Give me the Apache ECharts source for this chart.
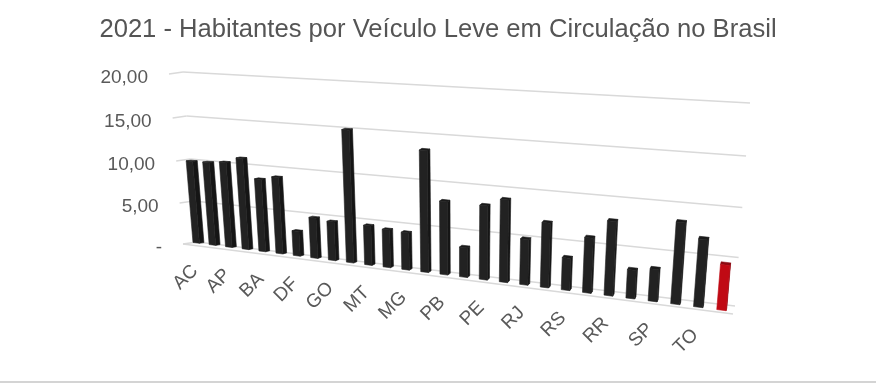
<!DOCTYPE html>
<html><head><meta charset="utf-8">
<style>html,body{margin:0;padding:0;background:#fff}#c{width:876px;height:383px}</style>
<script src="https://cdn.jsdelivr.net/npm/echarts@6/dist/echarts.min.js"></script>
</head><body><div id="c"></div>
<script>
const chartTitle = '2021 - Habitantes por Veículo Leve em Circulação no Brasil';
const categories = ['AC','AL','AP','AM','BA','CE','DF','ES','GO','MA','MT','MS','MG','PA','PB','PR','PE','PI','RJ','RN','RS','RO','RR','SC','SP','SE','TO','BRASIL'];
const values = [9.88,9.93,10.13,10.78,8.55,8.98,2.93,4.73,4.51,14.98,4.53,4.32,4.23,13.46,8.15,3.33,8.15,9.0,5.0,7.0,3.5,5.9,7.88,3.03,3.39,8.46,7.0,4.66];
const tickValues = [0,5,10,15,20];
const tickLabels = ['-','5,00','10,00','15,00','20,00'];

// perspective set-up: the flat axis grid is projected to the skewed 3D view
const G = {l:100,t:50,w:600,h:200};
function makeH(q){ // q: BL, BR, TR, TL ; (s,t) unit square -> quad
  const [p0,p1,p2,p3]=q;
  const dx1=p1[0]-p2[0],dx2=p3[0]-p2[0],sx=p0[0]-p1[0]+p2[0]-p3[0];
  const dy1=p1[1]-p2[1],dy2=p3[1]-p2[1],sy=p0[1]-p1[1]+p2[1]-p3[1];
  const det=dx1*dy2-dx2*dy1;
  const g=(sx*dy2-dx2*sy)/det,h=(dx1*sy-sx*dy1)/det;
  const a=p1[0]-p0[0]+g*p1[0],b=p3[0]-p0[0]+h*p3[0],c=p0[0];
  const d=p1[1]-p0[1]+g*p1[1],e=p3[1]-p0[1]+h*p3[1],f=p0[1];
  return (s,t)=>{const w=g*s+h*t+1;return [(a*s+b*t+c)/w,(d*s+e*t+f)/w];};
}
const barPlane = makeH([[197,243],[720.5,310],[737.5,107],[183,73]]);
const wallPlane = makeH([[197,242],[735,306],[750,103],[183,72]]);
const floorFront = [[183,244],[733,314]];
const sideOffset = [-14,2];
const unit = p => [(p[0]-G.l)/G.w, (G.t+G.h-p[1])/G.h];
const GREY = '#d9d9d9';

function renderGrid(params, api){
  const v = api.value(0);
  const a = unit(api.coord([0,v])), b = unit(api.coord([27,v]));
  const p0 = wallPlane(a[0],a[1]), p1 = wallPlane(b[0],b[1]);
  const pf = [p0[0]+sideOffset[0], p0[1]+sideOffset[1]];
  const line=(A,B)=>({type:'line',shape:{x1:A[0],y1:A[1],x2:B[0],y2:B[1]},style:{stroke:GREY,lineWidth:1.5}});
  const children=[line(p0,p1),line(pf,p0)];
  if(v===0) children.push(line(floorFront[0],floorFront[1]));
  children.push({type:'text',x:pf[0]-21,y:pf[1]+4,style:{text:tickLabels[params.dataIndex],align:'right',verticalAlign:'middle',font:'19px "Liberation Sans"',fill:'#595959'}});
  return {type:'group',children};
}
function renderBar(params, api){
  const i = api.value(0), v = api.value(1);
  const s=i/27;
  const halfW = 0.2, shift = -0.05+0.09*s;
  const P=(x,val)=>{const u=unit(api.coord([0,val])); return barPlane(x/27,u[1]);};
  const d=[4.5+(0.7-4.5)*s,-0.7+(-2.7+0.7)*s];
  const bl=P(i-halfW+shift,0),br=P(i+halfW+shift,0),tr=P(i+halfW+shift,v),tl=P(i-halfW+shift,v);
  const up=p=>[p[0]+d[0],p[1]+d[1]];
  const red = i===categories.length-1;
  const face = red?'#c00a14':'#222222';
  const side = red?'#8c0a12':'#151515', top = red?'#8c0a12':'#1a1a1a';
  const poly=(pts,fill)=>({type:'polygon',shape:{points:pts},style:{fill,stroke:fill,lineWidth:0.6}});
  return {type:'group',children:[
    poly([br,up(br),up(tr),tr],side),
    poly([tl,tr,up(tr),up(tl)],top),
    poly([bl,br,tr,tl],face)
  ]};
}
function renderLabel(params, api){
  const i = api.value(0);
  const u = unit(api.coord([i,0]));
  const p = barPlane(u[0],0);
  return {type:'text',x:p[0]-2,y:p[1]+25,rotation:Math.PI/4,
    style:{text:categories[i],align:'right',verticalAlign:'middle',font:'19px "Liberation Sans"',fill:'#595959'}};
}
const labelRows = categories.map((c,i)=>[i]).filter(r=>r[0]%2===0);
const chart = echarts.init(document.getElementById('c'),null,{renderer:'canvas'});
chart.setOption({
  animation:false,
  backgroundColor:'#fff',
  title:{text:chartTitle,left:'center',top:12,textStyle:{fontFamily:'Liberation Sans',fontSize:25.6,fontWeight:'normal',color:'#555555'}},
  grid:{left:G.l,top:G.t,width:G.w,height:G.h},
  xAxis:{type:'category',data:categories,boundaryGap:false,show:false},
  yAxis:{type:'value',min:0,max:20,interval:5,show:false},
  graphic:[{type:'rect',shape:{x:0,y:381,width:876,height:2},style:{fill:'#d4d4d4'}}],
  series:[
    {type:'custom',name:'grid',coordinateSystem:'cartesian2d',clip:false,silent:true,data:tickValues.map(v=>[v]),encode:{y:0},renderItem:renderGrid},
    {type:'custom',name:'Habitantes por Veículo',coordinateSystem:'cartesian2d',clip:false,silent:true,data:values.map((v,i)=>[i,v]),encode:{x:0,y:1},renderItem:renderBar},
    {type:'custom',name:'labels',coordinateSystem:'cartesian2d',clip:false,silent:true,data:labelRows,encode:{x:0},renderItem:renderLabel}
  ]
});
</script></body></html>
